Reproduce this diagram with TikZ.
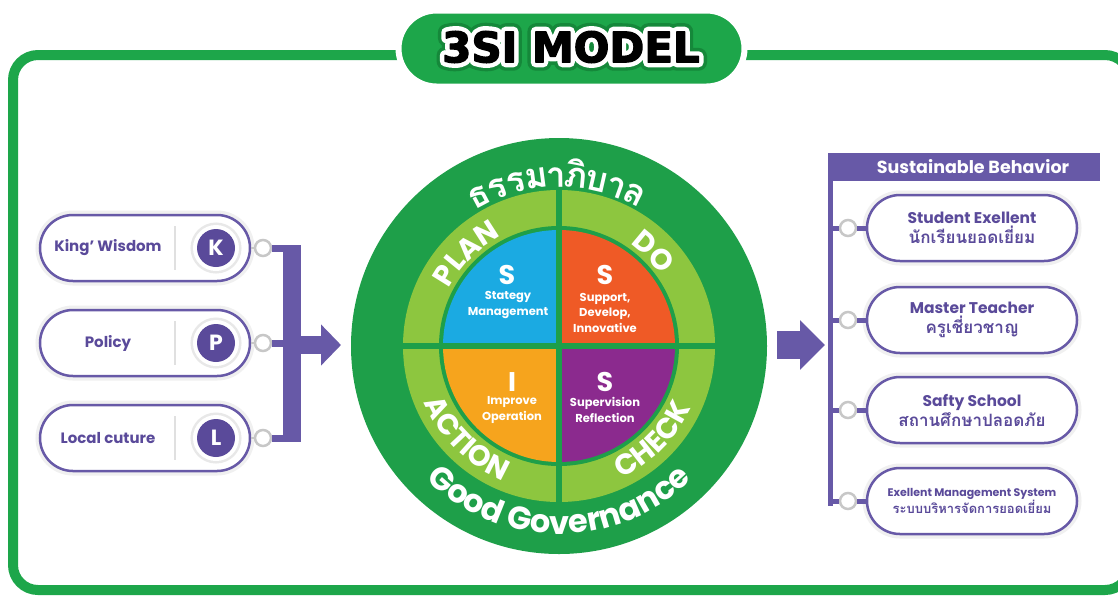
\documentclass[tikz,border=0pt]{standalone}
\usepackage{fontspec}
\setmainfont{Poppins}
\newfontfamily\titleK[FakeBold=3]{DejaVu Sans Bold}
\newfontfamily\titleW[FakeBold=24]{DejaVu Sans Bold}
\newfontfamily\titleG[FakeBold=40]{DejaVu Sans Bold}
\newfontfamily\thaifont[Script=Thai]{Loma}
\usetikzlibrary{shapes.misc,arrows.meta,decorations.text,calc}
\definecolor{frameg}{HTML}{1DA64A}
\definecolor{dkg}{HTML}{1E9F49}
\definecolor{ltg}{HTML}{8DC63F}
\definecolor{qblue}{HTML}{1BAAE2}
\definecolor{qorange}{HTML}{EF5A26}
\definecolor{qyellow}{HTML}{F6A41D}
\definecolor{qpurple}{HTML}{8B2A8E}
\definecolor{vio}{HTML}{6759A7}
\definecolor{viodk}{HTML}{5A4A9A}
\definecolor{titledk}{HTML}{15883A}
\newcommand\ringfont{\bfseries\fontsize{29}{29}\selectfont\color{white}}
\newcommand\govfont{\bfseries\fontsize{32}{32}\selectfont\color{white}}
\newcommand\haloed[1]{%
  \pgfsetroundjoin\pgfsetroundcap\pgfsetmiterlimit{1}%
  \makebox[0pt][l]{\color{titledk}\titleG #1}%
  \makebox[0pt][l]{\color{white}\titleW #1}%
  {\color{black}\titleK #1}}
\begin{document}
\begin{tikzpicture}[x=1pt,y=1pt,
  pill/.style={rounded rectangle, draw=vio, line width=2.5pt, fill=white, minimum width=210pt, minimum height=66pt, inner sep=0pt, preaction={draw=black!6, line width=9pt}},
  dot/.style={circle, draw=black!22, line width=2.5pt, fill=white, minimum size=16pt, inner sep=0pt},
  letterdisc/.style={circle, fill=viodk, text=white, minimum size=38pt, inner sep=0pt, font=\bfseries\fontsize{22}{22}\selectfont, preaction={draw=black!9, line width=13pt}, preaction={draw=white, line width=8pt}},
  lconn/.style={vio, line width=7pt},
  rconn/.style={vio, line width=5pt},
  lefttext/.style={text=viodk, font=\bfseries\fontsize{15}{15}\selectfont, inner sep=0pt},
  righttext/.style={text=viodk, align=center, font=\bfseries\fontsize{15.5}{20}\selectfont},
  bigS/.style={text=white, font=\bfseries\fontsize{27}{27}\selectfont, inner sep=0pt},
  qtext/.style={text=white, align=center, font=\bfseries\fontsize{11.5}{15.5}\selectfont, inner sep=0pt},
  titletext/.style={font=\fontsize{42}{42}\selectfont, inner sep=0pt, line join=round},
  thaiarc/.style={text=white, font=\thaifont\bfseries\fontsize{35}{35}\selectfont, anchor=base, inner sep=0pt}
]
\useasboundingbox (0,0) rectangle (1118,-598);
\fill[white] (0,0) rectangle (1118,-598);
% frame
\draw[frameg, line width=10pt, rounded corners=25pt] (13,-55) rectangle (1130,-590);
% title
\node[rounded rectangle, fill=frameg, draw=white, line width=6pt, minimum width=346pt, minimum height=76pt, inner sep=0pt] (titlepill) at (571.5,-48.5) {};
\node[titletext] (title) at (571,-47) {\haloed{3SI MODEL}};

% circle
\coordinate (C) at (559,-346);
\node[circle, fill=dkg, minimum size=416pt, inner sep=0pt] (ring) at (C) {};
\fill[ltg] (C) circle[radius=156];
\fill[dkg] (C) circle[radius=120];
\fill[qblue] (C) -- ++(90:116) arc[start angle=90,end angle=180,radius=116] -- cycle;
\fill[qorange] (C) -- ++(0:116) arc[start angle=0,end angle=90,radius=116] -- cycle;
\fill[qyellow] (C) -- ++(180:116) arc[start angle=180,end angle=270,radius=116] -- cycle;
\fill[qpurple] (C) -- ++(270:116) arc[start angle=270,end angle=360,radius=116] -- cycle;
\draw[dkg, line width=6pt] (C) ++(-158,0) -- ++(316,0);
\draw[dkg, line width=6pt] (C) ++(0,-158) -- ++(0,316);
% quadrant texts
\node[bigS] at (507,-275) {S};
\node[qtext] at (508,-305) {Stategy\\Management};
\node[bigS] at (605,-275) {S};
\node[qtext] at (605,-312.5) {Support,\\Develop,\\Innovative};
\node[bigS] at (512,-382) {I};
\node[qtext] at (512,-410) {Improve\\Operation};
\node[bigS] at (605,-382) {S};
\node[qtext] at (605,-410) {Supervision\\Reflection};
% ring texts
\path[decorate, decoration={text along path, text align=center, text={|\ringfont|PLAN}}] (C) ++(180:124) arc[start angle=180,end angle=90,radius=124];
\path[decorate, decoration={text along path, text align=center, text={|\ringfont|DO}}] (C) ++(90:124) arc[start angle=90,end angle=0,radius=124];
\path[decorate, decoration={text along path, text align=center, text={|\ringfont|ACTION}}] (C) ++(180:146) arc[start angle=180,end angle=270,radius=146];
\path[decorate, decoration={text along path, text align=center, text={|\ringfont|CHECK}}] (C) ++(270:146) arc[start angle=270,end angle=360,radius=146];
\path[decorate, decoration={text along path, text align=center, text={|\govfont|Good Governance}}] (C) ++(180:188) arc[start angle=180,end angle=360,radius=188];
\foreach \ch/\ang in {ธ/118, ร/111.3, ร/104.6, ม/97.6, า/90.8, ภิ/84.4, บ/77.2, า/70.3, ล/63.5}
  {\path (C) ++(\ang:159) node[thaiarc, rotate=\ang-90] {\ch};}

% left side
\foreach \n/\L/\y/\t in {k/K/248/King’ Wisdom, p/P/343/Policy, l/L/438/Local cuture} {
  \node[pill] (\n p) at (145,-\y) {};
  \draw[black!12, line width=2pt] (175,-\y+22) -- (175,-\y-22);
  \node[lefttext] (\n t) at (108,-\y) {\t};
  \node[letterdisc] (\n c) at (216,-\y) {\L};
  \node[dot] (\n d) at (263,-\y) {};
  \draw[black!22, line width=2.5pt] (\n p.east) -- (\n d);
}
\node[fill=vio, minimum width=18pt, minimum height=197pt, inner sep=0pt] (lbar) at (292,-343) {};
\foreach \n in {k,p,l} {\draw[lconn] (\n d) -- (\n d -| lbar.west);}
\coordinate (la) at (341,-345);
\draw[vio, line width=18pt, -{Triangle[length=20pt,width=40pt]}] (lbar.east |- la) -- (la);

% right arrow
\coordinate (ra1) at (777,-345);
\coordinate (ra2) at (825,-345);
\draw[vio, line width=28pt, -{Triangle[length=25pt,width=48pt]}] (ra1) -- (ra2);

% right side
\node[fill=vio, minimum width=272pt, minimum height=28pt, inner sep=0pt, anchor=north west] (hdr) at (828,-153) {};
\node[text=white, font=\bfseries\fontsize{17.5}{17.5}\selectfont] (hdrt) at (973,-167) {Sustainable Behavior};
\coordinate (vbot) at (830.5,-506);
\draw[rconn] ([xshift=2.5pt]hdr.south west) -- (vbot);
\node[pill, righttext] (rp1) at (972,-228) {Student Exellent\\{\thaifont\fontsize{17}{20}\selectfont นักเรียนยอดเยี่ยม}};
\node[pill, righttext] (rp2) at (972,-320) {Master Teacher\\{\thaifont\fontsize{17}{20}\selectfont ครูเชี่ยวชาญ}};
\node[pill, righttext] (rp3) at (972,-410) {Safty School\\{\thaifont\fontsize{17}{20}\selectfont สถานศึกษาปลอดภัย}};
\node[pill, righttext, font=\bfseries\fontsize{11}{17}\selectfont] (rp4) at (972,-501) {Exellent Management System\\{\thaifont\fontsize{13}{17}\selectfont ระบบบริหารจัดการยอดเยี่ยม}};
\foreach \i in {1,2,3,4} {
  \node[dot] (rd\i) at (848,0 |- rp\i) {};
  \draw[rconn] (rd\i -| vbot) -- (rd\i);
  \draw[rconn] (rd\i) -- (rp\i);
}
\end{tikzpicture}
\end{document}
